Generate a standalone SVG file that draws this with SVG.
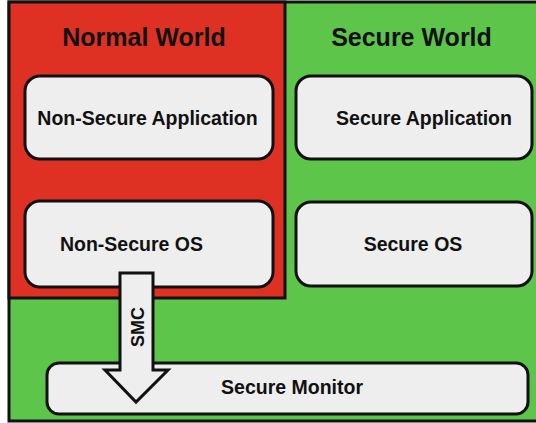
<svg xmlns="http://www.w3.org/2000/svg" width="536" height="423" viewBox="0 0 536 423">
<style>
.world{stroke:#111;stroke-width:3}
.box{fill:#eeeeee;stroke:#111;stroke-width:3}
.t{font-family:"Liberation Sans",Arial,sans-serif;font-weight:bold;fill:#111;text-anchor:middle}
.title{font-size:25px}
.lbl{font-size:19.5px}
</style>
<rect width="536" height="423" fill="#ffffff"/>
<g id="secure-world">
<rect class="world" x="9" y="2" width="545" height="419" fill="#5ec54b"/>
<text class="t title" x="411.5" y="46">Secure World</text>
</g>
<g id="normal-world">
<rect class="world" x="9" y="2" width="276" height="296" fill="#de3124"/>
<text class="t title" x="144" y="46">Normal World</text>
</g>
<g id="non-secure-application">
<rect class="box" x="25" y="76" width="248" height="83" rx="15"/>
<text class="t lbl" x="147.5" y="125">Non-Secure Application</text>
</g>
<g id="non-secure-os">
<rect class="box" x="25" y="201" width="248" height="86" rx="15"/>
<text class="t lbl" x="131.5" y="251">Non-Secure OS</text>
</g>
<g id="secure-application">
<rect class="box" x="296" y="76" width="236" height="83" rx="15"/>
<text class="t lbl" x="424" y="125">Secure Application</text>
</g>
<g id="secure-os">
<rect class="box" x="296" y="202" width="236" height="84" rx="15"/>
<text class="t lbl" x="413" y="251">Secure OS</text>
</g>
<g id="secure-monitor">
<rect class="box" x="47" y="363" width="481" height="51" rx="12"/>
<text class="t lbl" x="292" y="394">Secure Monitor</text>
</g>
<g id="connectors">
<polygon class="box" stroke-linejoin="miter" points="120,273 153,273 153,370 168,370 136,402 105,370 120,370"/>
<text class="t" font-size="18" transform="translate(144,327) rotate(-90)">SMC</text>
</g>
</svg>
